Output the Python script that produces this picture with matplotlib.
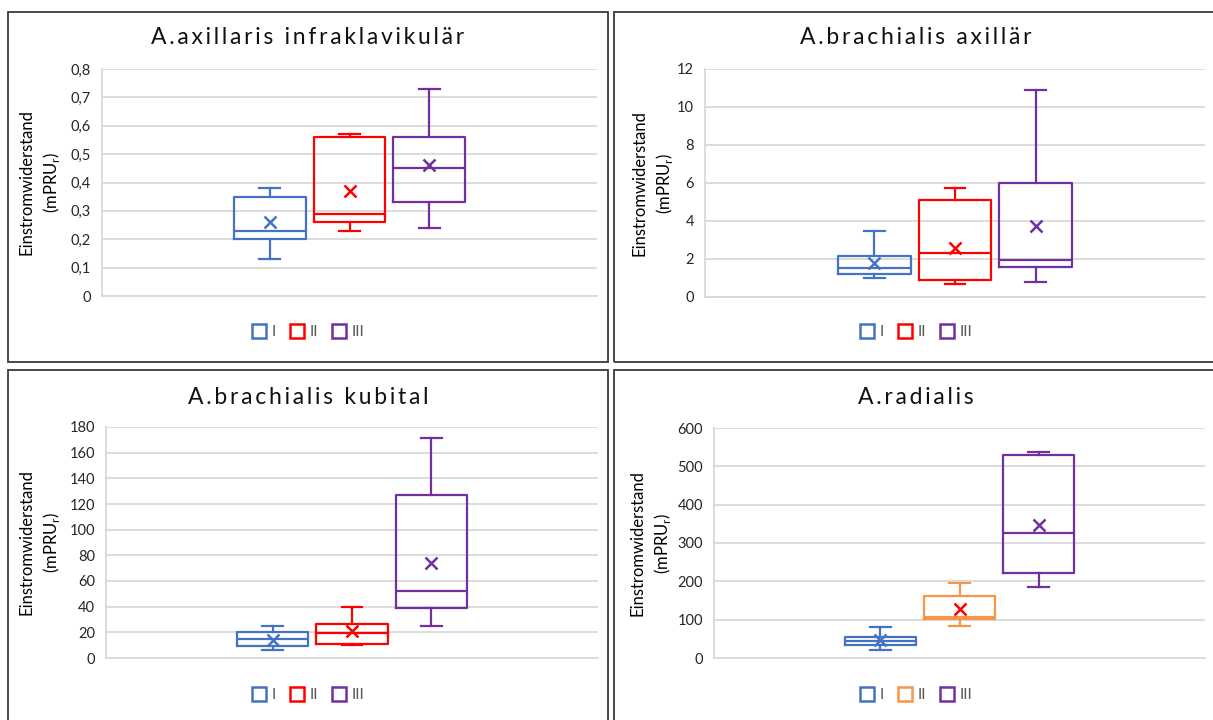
import matplotlib.pyplot as plt
from matplotlib.lines import Line2D
from matplotlib.patches import Rectangle

plt.rcParams['font.family'] = ['Lato', 'DejaVu Sans']
plt.rcParams['mathtext.fontset'] = 'custom'
plt.rcParams['mathtext.rm'] = 'Lato'

W, H = 1213, 720

groups = ['I', 'II', 'III']
titles = ['A.axillaris infraklavikulär', 'A.brachialis axillär',
          'A.brachialis kubital', 'A.radialis']

# each row: whisker low, Q1, median, Q3, whisker high, mean
axillaris = [[0.13, 0.20, 0.23, 0.35, 0.38, 0.26],
             [0.23, 0.26, 0.29, 0.56, 0.57, 0.37],
             [0.24, 0.33, 0.45, 0.56, 0.73, 0.46]]
brach_axillar = [[1.0, 1.2, 1.55, 2.15, 3.5, 1.8],
                 [0.7, 0.9, 2.3, 5.1, 5.75, 2.6],
                 [0.8, 1.6, 1.95, 6.0, 10.9, 3.75]]
brach_kubital = [[6, 9, 15, 20, 25, 14],
                 [10, 11, 19.5, 26.5, 39.5, 21],
                 [25, 39, 52.5, 127, 171.5, 74]]
radialis = [[22, 33, 45, 55, 82, 47],
            [83, 102, 108, 162, 195, 128],
            [185, 222, 325, 530, 537, 348]]

yticks = [[0, 0.1, 0.2, 0.3, 0.4, 0.5, 0.6, 0.7, 0.8],
          [0, 2, 4, 6, 8, 10, 12],
          [0, 20, 40, 60, 80, 100, 120, 140, 160, 180],
          [0, 100, 200, 300, 400, 500, 600]]

blue, red, purple, orange = '#4472C4', '#FF0000', '#7030A0', '#F79646'
box_colors = [[blue, red, purple], [blue, red, purple],
              [blue, red, purple], [blue, orange, purple]]
mean_colors = [[blue, red, purple], [blue, red, purple],
               [blue, red, purple], [blue, red, purple]]

data = [axillaris, brach_axillar, brach_kubital, radialis]

# pixel layout: axes (left, top, right, bottom), panel border, title y, legend y, ylabel x
axes_px = [(102, 69, 597, 296), (705, 69, 1205, 297),
           (106, 427, 598, 658), (714, 428, 1205, 658)]
panel_px = [(8, 12, 608, 362), (614, 12, 1218, 362),
            (8, 370, 608, 724), (614, 370, 1218, 724)]
title_y = [37, 37, 397, 397]
legend_y = [332, 332, 695, 695]
ylab_x = [40, 653, 40, 651]


def frac(l, t, r, b):
    return [l / W, 1 - b / H, (r - l) / W, (b - t) / H]


fig = plt.figure(figsize=(W / 100, H / 100), dpi=100)
fig.patch.set_facecolor('white')

for k in range(4):
    l, t, r, b = panel_px[k]
    fig.add_artist(Rectangle((l / W, 1 - b / H), (r - l) / W, (b - t) / H,
                             transform=fig.transFigure, fill=False,
                             edgecolor='#3a3a3a', linewidth=1.3))

    ax = fig.add_axes(frac(*axes_px[k]))
    stats = []
    for i, row in enumerate(data[k]):
        stats.append({'whislo': row[0], 'q1': row[1], 'med': row[2],
                      'q3': row[3], 'whishi': row[4], 'mean': row[5],
                      'label': groups[i]})
    for i in range(3):
        c = box_colors[k][i]
        ax.bxp([stats[i]], positions=[i - 1], widths=0.9, capwidths=0.26,
               showfliers=False, showmeans=False,
               boxprops=dict(color=c, linewidth=1.6),
               whiskerprops=dict(color=c, linewidth=1.6),
               capprops=dict(color=c, linewidth=1.6),
               medianprops=dict(color=c, linewidth=1.6))
        ax.plot(i - 1, stats[i]['mean'], marker='x', color=mean_colors[k][i],
                markersize=8, markeredgewidth=1.8, linestyle='none', zorder=5)

    ax.set_xlim(-3.1, 3.1)
    ax.set_ylim(yticks[k][0], yticks[k][-1])
    ax.set_yticks(yticks[k])
    ax.set_yticklabels([('%g' % v).replace('.', ',') for v in yticks[k]])
    ax.set_xticks([])
    ax.tick_params(axis='y', length=0, pad=8, labelsize=10.5, labelcolor='#262626')
    ax.grid(axis='y', color='#D9D9D9', linewidth=1.3)
    ax.set_axisbelow(True)
    for s in ['top', 'right']:
        ax.spines[s].set_visible(False)
    ax.spines['left'].set_color('#D9D9D9')
    ax.spines['bottom'].set_color('#D9D9D9')
    ax.spines['left'].set_linewidth(1.3)
    ax.spines['bottom'].set_linewidth(1.3)

    cx = (l + r) / 2 / W
    # wide letter spacing like the original titles
    fig.text(cx, 1 - title_y[k] / H, '\u200a\u200a'.join(titles[k]), ha='center',
             va='center', fontsize=16.5, color='#111111')
    fig.text(ylab_x[k] / W, 1 - ((axes_px[k][1] + axes_px[k][3]) / 2) / H,
             'Einstromwiderstand\n(mPRU$_\\mathregular{r}$)', rotation=90,
             ha='center', va='center', fontsize=12, linespacing=1.4)

    handles = [Line2D([], [], marker='s', linestyle='none', markersize=10,
                      markerfacecolor='none', markeredgecolor=box_colors[k][i],
                      markeredgewidth=1.8) for i in range(3)]
    fig.legend(handles, groups, loc='center', ncol=3, frameon=False,
               bbox_to_anchor=(cx, 1 - legend_y[k] / H),
               fontsize=11, labelcolor='#595959', handletextpad=0.3,
               columnspacing=0.9, handlelength=1.0)

plt.savefig('out.png', dpi=100)
